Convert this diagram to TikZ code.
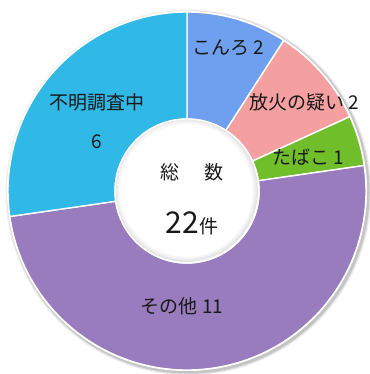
\documentclass[tikz,border=0pt]{standalone}
\usepackage{fontspec}
\setmainfont{Noto Sans CJK JP}
\usetikzlibrary{calc}
\definecolor{cBlue}{RGB}{111,160,240}
\definecolor{cPink}{RGB}{245,160,160}
\definecolor{cGreen}{RGB}{112,190,42}
\definecolor{cPurple}{RGB}{152,124,190}
\definecolor{cCyan}{RGB}{48,184,230}
\definecolor{cText}{RGB}{25,25,25}
\tikzset{
  slice/.style={draw=white, line width=1.4pt, line join=round},
  lbl/.style={text=cText, font=\fontsize{19}{22}\selectfont, inner sep=0pt},
}
\newcommand{\donutslice}[3]{%
  \path[slice, fill=#3] ($(c)+(#1:179pt)$) arc[start angle=#1, end angle=#2, radius=179pt]
    -- ($(c)+(#2:72pt)$) arc[start angle=#2, end angle=#1, radius=72pt] -- cycle;}
\begin{document}
\begin{tikzpicture}[x=1pt,y=-1pt]
\useasboundingbox (0,0) rectangle (369,374);
\coordinate (c) at (187,191);
% soft outer shadow
\foreach \r/\o in {183/0.05,182/0.08,181/0.12}{
  \fill[black, opacity=\o] ($(c)+(1.5,1.5)$) circle[radius=\r];
}
\fill[white] (c) circle[radius=180];
\donutslice{90}{57.273}{cBlue}
\donutslice{57.273}{24.545}{cPink}
\donutslice{24.545}{8.182}{cGreen}
\donutslice{8.182}{-171.818}{cPurple}
\donutslice{-171.818}{-270}{cCyan}
% inner hole with soft inner shadow
\fill[white] (c) circle[radius=72];
\foreach \r/\o in {71/0.10,69.5/0.07,68/0.04,66.5/0.02}{
  \draw[black, opacity=\o, line width=1.5] ($(c)+(-0.8,-0.8)$) circle[radius=\r];
}
\fill[white] (c) circle[radius=65.5];
\draw[white, line width=1.4] (c) circle[radius=72];
% labels
\node[lbl] (l1) at (228,48) {こんろ 2};
\node[lbl] (l2) at (304,102) {放火の疑い 2};
\node[lbl] (l3) at (308,157) {たばこ 1};
\node[lbl] (l4) at (182,306) {その他 11};
\node[lbl] (l5) at (97,102) {不明調査中};
\node[lbl] (l6) at (97,142) {6};
\node[lbl] (t1) at (170,172) {総};
\node[lbl] (t2) at (214,172) {数};
\node[text=cText, inner sep=0pt, anchor=base] (t3) at (192,233) {{\fontsize{30}{32}\selectfont 22}{\fontsize{19}{20}\selectfont 件}};
\end{tikzpicture}
\end{document}
